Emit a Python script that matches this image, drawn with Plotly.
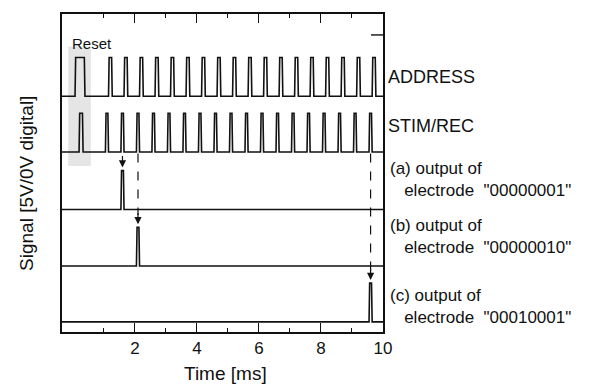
import plotly.graph_objects as go

# ---------------- data ----------------
# pulse rise times [ms] and widths [ms] of each digital signal
address_starts = [0.07, 1.15, 1.65, 2.15, 2.65, 3.15, 3.65, 4.15, 4.65, 5.15,
                  5.65, 6.15, 6.65, 7.15, 7.65, 8.15, 8.65, 9.15, 9.65]
address_widths = [0.32, 0.12, 0.12, 0.12, 0.12, 0.12, 0.12, 0.12, 0.12, 0.12,
                  0.12, 0.12, 0.12, 0.12, 0.12, 0.12, 0.12, 0.12, 0.12]
stim_starts = [0.20, 1.05, 1.55, 2.05, 2.55, 3.05, 3.55, 4.05, 4.55, 5.05,
               5.55, 6.05, 6.55, 7.05, 7.55, 8.05, 8.55, 9.05, 9.55]
stim_widths = [0.13, 0.10, 0.10, 0.10, 0.10, 0.10, 0.10, 0.10, 0.10, 0.10,
               0.10, 0.10, 0.10, 0.10, 0.10, 0.10, 0.10, 0.10, 0.10]
out_a_starts = [1.55]
out_a_widths = [0.10]
out_b_starts = [2.05]
out_b_widths = [0.10]
out_c_starts = [9.55]
out_c_widths = [0.10]
pulse_level = 5.0  # V (digital high)

channel_names = ["ADDRESS", "STIM/REC", "(a) output of", "(b) output of", "(c) output of"]
electrode_labels = ['electrode  "00000001"', 'electrode  "00000010"', 'electrode  "00010001"']
x_tick_vals = [2, 4, 6, 8, 10]
x_tick_text = ["2", "4", "6", "8", "10"]

# ---------------- layout constants ----------------
W, H = 603, 385
ML, MR, MT, MB = 62, 220, 12, 53
XR = [-0.35, 10.0]
YR = [0, 41]
offsets = [30.4, 23.2, 15.8, 8.5, 1.3]   # vertical stacking of channels
FONT = "Liberation Sans, Arial, Helvetica, sans-serif"
LC = "#111111"

def train(starts, widths, base, amp, t0=XR[0], t1=XR[1], edge=0.02):
    xs, ys = [t0], [base]
    for s, w in zip(starts, widths):
        xs += [s, s + edge, s + w - edge, s + w]
        ys += [base, base + amp, base + amp, base]
    xs.append(t1)
    ys.append(base)
    return xs, ys

signals = [(address_starts, address_widths), (stim_starts, stim_widths),
           (out_a_starts, out_a_widths), (out_b_starts, out_b_widths),
           (out_c_starts, out_c_widths)]

fig = go.Figure()
for (st, wd), off, name in zip(signals, offsets, channel_names):
    xs, ys = train(st, wd, off, pulse_level)
    fig.add_trace(go.Scatter(x=xs, y=ys, mode="lines", name=name,
                             line=dict(color=LC, width=1.6), showlegend=False,
                             hoverinfo="skip"))

# dashed connector lines (STIM pulse -> electrode output)
dash_targets = [(out_b_starts[0] + out_b_widths[0] / 2, offsets[3]),
                (out_c_starts[0] + out_c_widths[0] / 2, offsets[4])]
for xt, off in dash_targets:
    fig.add_trace(go.Scatter(x=[xt, xt], y=[offsets[1] - 0.2, off + pulse_level + 1.6],
                             mode="lines", line=dict(color=LC, width=1.2, dash="dash"),
                             showlegend=False, hoverinfo="skip"))

annotations = []
# arrows
xa = out_a_starts[0] + out_a_widths[0] / 2
annotations.append(dict(x=xa, y=offsets[2] + pulse_level + 0.4, xref="x", yref="y",
                        ax=xa, ay=offsets[1] - 0.3, axref="x", ayref="y", text="",
                        showarrow=True, arrowhead=2, arrowsize=1.2, arrowwidth=1.2,
                        arrowcolor=LC))
for xt, off in dash_targets:
    annotations.append(dict(x=xt, y=off + pulse_level + 0.4, xref="x", yref="y",
                            ax=xt, ay=off + pulse_level + 2.0, axref="x", ayref="y",
                            text="", showarrow=True, arrowhead=2, arrowsize=1.2,
                            arrowwidth=1.2, arrowcolor=LC))

def px_x(p):
    return (p - ML) / (W - ML - MR)

def px_y(p):
    return (H - MB - p) / (H - MT - MB)

tf = dict(family=FONT, size=18, color=LC)
# right-hand labels
annotations.append(dict(x=px_x(386), y=px_y(75), xref="paper", yref="paper",
                        text=channel_names[0], showarrow=False, xanchor="left",
                        yanchor="middle", font=tf))
annotations.append(dict(x=px_x(386), y=px_y(125), xref="paper", yref="paper",
                        text=channel_names[1], showarrow=False, xanchor="left",
                        yanchor="middle", font=tf))
block_center_y = [179, 236, 306]
for i in range(3):
    annotations.append(dict(x=px_x(388), y=px_y(block_center_y[i]), xref="paper",
                            yref="paper",
                            text=channel_names[2 + i] + "<br>&nbsp;&nbsp;&nbsp;" + electrode_labels[i],
                            showarrow=False, xanchor="left", yanchor="middle",
                            align="left", font=dict(family=FONT, size=17, color=LC)))
# Reset label
annotations.append(dict(x=-0.08, y=px_y(42), xref="x", yref="paper", text="Reset",
                        showarrow=False, xanchor="left", yanchor="middle",
                        font=dict(family=FONT, size=15, color=LC)))
# axis titles
annotations.append(dict(x=px_x(226), y=px_y(374), xref="paper", yref="paper",
                        text="Time [ms]", showarrow=False, xanchor="center",
                        yanchor="middle", font=dict(family=FONT, size=19, color=LC)))
annotations.append(dict(x=px_x(27), y=px_y(183), xref="paper", yref="paper",
                        text="Signal [5V/0V digital]", showarrow=False, textangle=-90,
                        xanchor="center", yanchor="middle",
                        font=dict(family=FONT, size=19, color=LC)))

shapes = [
    # grey stippled reset highlight
    dict(type="rect", xref="x", yref="y", x0=-0.15, x1=0.58, y0=21.4, y1=36.8,
         fillcolor="rgba(150,150,150,0.25)", line=dict(width=0), layer="below"),
    # small tick on right border
    dict(type="line", xref="paper", yref="y", x0=1 - 12 / (W - ML - MR), x1=1,
         y0=38.3, y1=38.3, line=dict(color=LC, width=1.4)),
]

fig.update_layout(
    width=W, height=H,
    margin=dict(l=ML, r=MR, t=MT, b=MB, pad=0),
    paper_bgcolor="white", plot_bgcolor="white",
    annotations=annotations, shapes=shapes,
    xaxis=dict(range=XR, showgrid=False, zeroline=False, showline=True,
               linecolor=LC, linewidth=1.6, mirror="ticks", ticks="inside",
               ticklen=9, tickwidth=1.4, tickcolor=LC,
               tickvals=x_tick_vals, ticktext=x_tick_text,
               tickfont=dict(family=FONT, size=17, color=LC),
               minor=dict(tickvals=[1, 3, 5, 7, 9], ticks="inside", ticklen=4,
                          tickwidth=1.2, tickcolor=LC)),
    yaxis=dict(range=YR, showgrid=False, zeroline=False, showline=True,
               linecolor=LC, linewidth=1.6, mirror=True, ticks="",
               showticklabels=False),
)

fig.write_html("out.html")
